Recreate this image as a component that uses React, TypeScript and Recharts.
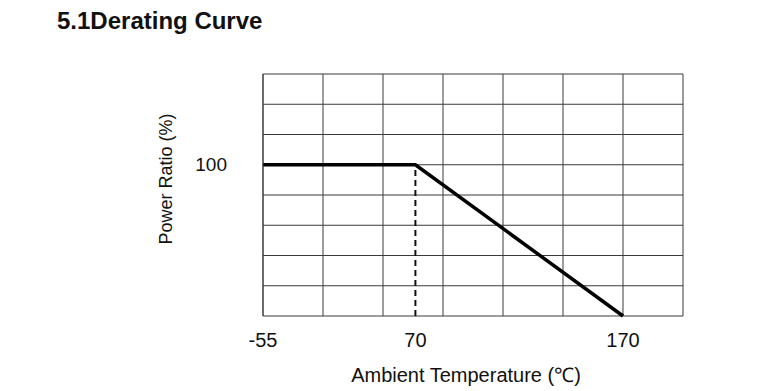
import React from 'react';
import { LineChart, Line, XAxis, YAxis, CartesianGrid, ReferenceLine } from 'recharts';

// the temperature axis of this curve is not linear, so temperatures are placed
// by the grid column they sit on
const tempLabels = [-55, 70, 170];
const tempColumns = [0, 2.54, 6];
const gridColumns = [0, 1, 2, 3, 4, 5, 6, 7];

const ratioGrid = [0, 20, 40, 60, 80, 100, 120, 140, 160];
const ratioLabels = [100];

const curveTemps = [-55, 70, 170];
const curveRatios = [100, 100, 0];
const kneeTemp = 70;

const colOf = (t: number) => tempColumns[tempLabels.indexOf(t)];

const data = curveTemps.map((t, i) => ({ col: colOf(t), temp: t, ratio: curveRatios[i] }));

const font = '"Liberation Sans", Arial, sans-serif';
const gridColor = '#3a3a3a';

export default function App() {
  return (
    <div style={{ position: 'absolute', left: 0, top: 0, width: 775, height: 391, background: '#fff' }}>
      <svg width={775} height={40} style={{ position: 'absolute', left: 0, top: 0 }}>
        <text x={57} y={29} fontFamily={font} fontWeight="bold" fontSize={24} fill="#111">
          5.1Derating Curve
        </text>
      </svg>
      <LineChart
        width={775}
        height={391}
        data={data}
        margin={{ top: 74, right: 92, bottom: 0, left: 0 }}
        style={{ position: 'absolute', left: 0, top: 0 }}
      >
        <CartesianGrid xAxisId="grid" stroke={gridColor} strokeWidth={1} />
        <XAxis
          xAxisId="grid"
          type="number"
          dataKey="col"
          domain={[0, 7]}
          ticks={gridColumns}
          tickFormatter={() => ''}
          tickLine={false}
          axisLine={{ stroke: gridColor }}
          tickSize={0}
          height={0}
        />
        <XAxis
          xAxisId="temp"
          type="number"
          dataKey="col"
          domain={[0, 7]}
          ticks={tempColumns}
          tickFormatter={(v: number) => String(tempLabels[tempColumns.indexOf(v)] ?? '')}
          tick={{ fill: '#111', fontSize: 20, fontFamily: font }}
          tickLine={false}
          axisLine={false}
          tickSize={0}
          tickMargin={17}
          height={75}
          label={{
            value: 'Ambient Temperature (℃)',
            position: 'insideBottom',
            offset: 9,
            dx: -7,
            fill: '#111',
            fontSize: 20,
            fontFamily: font,
          }}
        />
        <YAxis
          type="number"
          domain={[0, 160]}
          ticks={ratioGrid}
          tickFormatter={(v: number) => (ratioLabels.includes(v) ? String(v) : '')}
          tick={{ fill: '#111', fontSize: 19, fontFamily: font }}
          tickLine={false}
          axisLine={{ stroke: gridColor }}
          tickSize={0}
          tickMargin={36}
          width={263}
          label={{
            value: 'Power Ratio (%)',
            angle: -90,
            position: 'insideLeft',
            offset: 166,
            dy: -16,
            fill: '#111',
            fontSize: 18,
            fontFamily: font,
            style: { textAnchor: 'middle' },
          }}
        />
        <ReferenceLine
          xAxisId="temp"
          segment={[
            { x: colOf(kneeTemp), y: 0 },
            { x: colOf(kneeTemp), y: 100 },
          ]}
          stroke="#111"
          strokeWidth={2}
          strokeDasharray="6 4"
        />
        <Line
          xAxisId="temp"
          type="linear"
          dataKey="ratio"
          stroke="#000"
          strokeWidth={3.5}
          dot={false}
          isAnimationActive={false}
        />
      </LineChart>
    </div>
  );
}
